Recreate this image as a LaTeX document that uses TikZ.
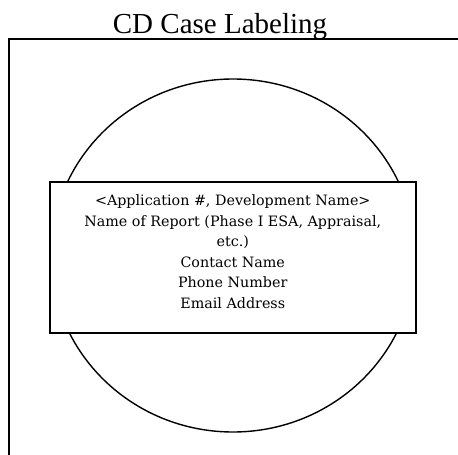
\documentclass[tikz,border=0pt]{standalone}
\usepackage{fontspec}
\setmainfont{Liberation Serif}
\newfontfamily\cdlabelfont{DejaVu Serif}
\definecolor{CaseInk}{HTML}{000000}
\tikzset{
  cdcase title/.style={font=\fontsize{29}{34}\selectfont, text=CaseInk},
  cdcase text/.style={font=\cdlabelfont\fontsize{14.3}{20.6}\selectfont, text=CaseInk, align=center},
  cdcase frame/.style={draw=CaseInk, line width=2pt},
  cdcase disc/.style={draw=CaseInk, line width=1.4pt},
  cdcase label/.style={draw=CaseInk, fill=white, line width=1.8pt, minimum width=366pt, minimum height=151pt, inner sep=0pt},
}

\begin{document}
\begin{tikzpicture}[x=1pt,y=1pt]
  \useasboundingbox (0,0) rectangle (458,-455);
  \node[cdcase title, anchor=base] (title) at (220,-33) {CD Case Labeling};

  % case outline (only top and left edges show)
  \draw[cdcase frame] (460,-39) -- (8.5,-39) -- (8.5,-457);

  % disc
  \draw[cdcase disc] (233,-255.5) ellipse [x radius=182, y radius=176.5];

  % label on the disc
  \node[cdcase label] (label) at (232.75,-257.5) {};
  \node[cdcase text, anchor=north] (labeltext) at ([yshift=-10pt]label.north)
    {<Application \#, Development Name>\\
     Name of Report (Phase I ESA, Appraisal,\\
     etc.)\\
     Contact Name\\
     Phone Number\\
     Email Address};
\end{tikzpicture}
\end{document}
